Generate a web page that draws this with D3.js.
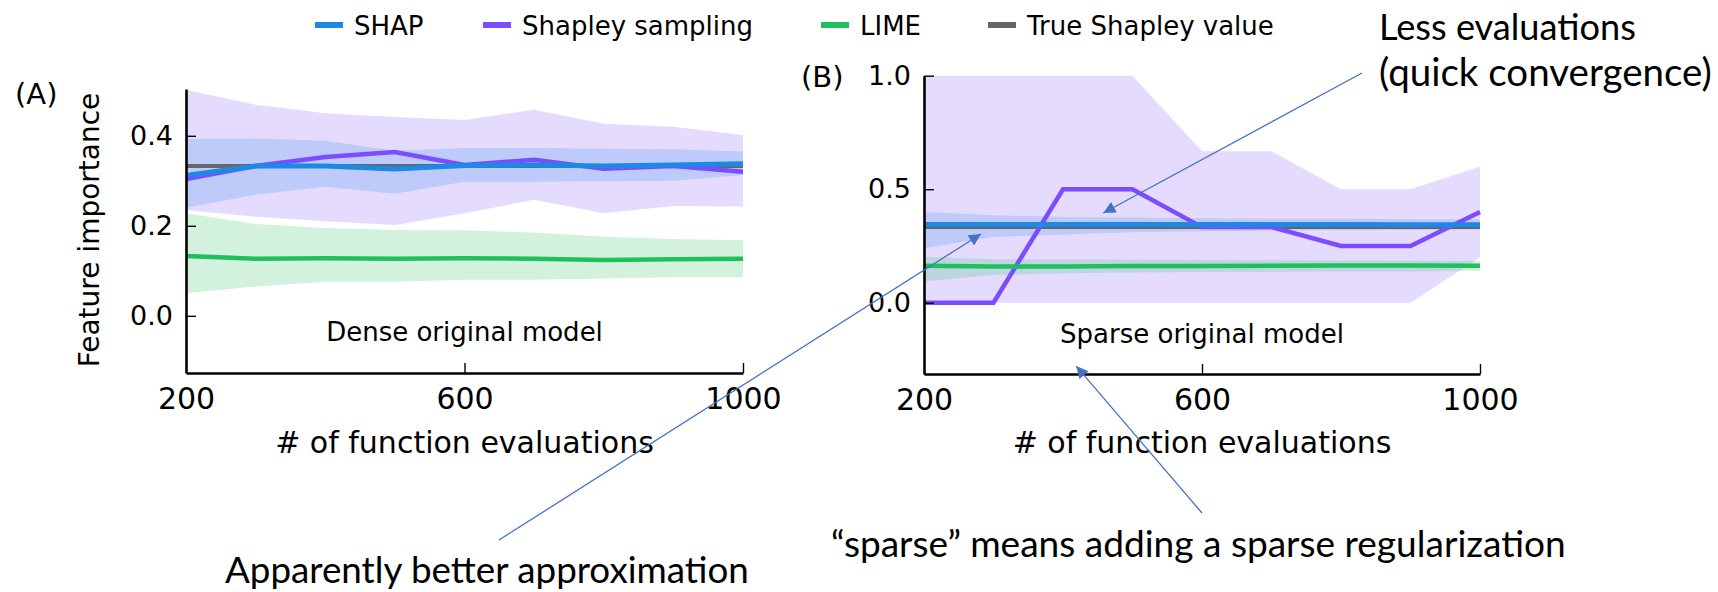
<!DOCTYPE html>
<html>
<head>
<meta charset="utf-8">
<script src="https://cdn.jsdelivr.net/npm/d3@7"></script>
<style>
  body { margin: 0; background: #fff; }
  svg { display: block; }
</style>
</head>
<body>
<svg id="chart" width="1718" height="592"></svg>
<script>
// values

var evals = [200, 300, 400, 500, 600, 700, 800, 900, 1000];

var seriesNames = ["SHAP", "Shapley sampling", "LIME", "True Shapley value"];

// (A) dense original model
var shapA    = [0.312, 0.333, 0.333, 0.326, 0.334, 0.335, 0.333, 0.335, 0.338];
var shapALo  = [0.240, 0.269, 0.287, 0.271, 0.298, 0.298, 0.299, 0.300, 0.313];
var shapAHi  = [0.393, 0.394, 0.389, 0.367, 0.373, 0.373, 0.371, 0.370, 0.365];
var sampA    = [0.304, 0.333, 0.353, 0.364, 0.335, 0.347, 0.327, 0.333, 0.320];
var sampALo  = [0.235, 0.220, 0.210, 0.202, 0.228, 0.258, 0.228, 0.244, 0.243];
var sampAHi  = [0.502, 0.469, 0.450, 0.442, 0.435, 0.458, 0.427, 0.420, 0.402];
var limeA    = [0.133, 0.127, 0.128, 0.127, 0.128, 0.127, 0.124, 0.126, 0.127];
var limeALo  = [0.050, 0.065, 0.076, 0.076, 0.080, 0.080, 0.083, 0.086, 0.086];
var limeAHi  = [0.228, 0.204, 0.195, 0.191, 0.190, 0.185, 0.176, 0.171, 0.168];
var trueA    = [0.333, 0.333, 0.333, 0.333, 0.333, 0.333, 0.333, 0.333, 0.333];

// (B) sparse original model
var shapB    = [0.345, 0.345, 0.345, 0.345, 0.344, 0.344, 0.344, 0.343, 0.343];
var shapBLo  = [0.240, 0.290, 0.300, 0.310, 0.315, 0.318, 0.320, 0.320, 0.322];
var shapBHi  = [0.400, 0.385, 0.378, 0.375, 0.372, 0.370, 0.370, 0.368, 0.368];
var sampB    = [0.000, 0.000, 0.500, 0.500, 0.333, 0.333, 0.250, 0.250, 0.400];
var sampBLo  = [0.000, 0.000, 0.000, 0.000, 0.000, 0.000, 0.000, 0.000, 0.200];
var sampBHi  = [1.000, 1.000, 1.000, 1.000, 0.667, 0.667, 0.500, 0.500, 0.600];
var limeB    = [0.163, 0.160, 0.160, 0.162, 0.162, 0.163, 0.164, 0.164, 0.163];
var limeBLo  = [0.093, 0.122, 0.130, 0.133, 0.135, 0.136, 0.137, 0.138, 0.140];
var limeBHi  = [0.203, 0.192, 0.190, 0.190, 0.188, 0.187, 0.186, 0.185, 0.185];
var trueB    = [0.333, 0.333, 0.333, 0.333, 0.333, 0.333, 0.333, 0.333, 0.333];

var xTicks = [200, 600, 1000];
var yTicksA = [0.0, 0.2, 0.4];
var yTicksB = [0.0, 0.5, 1.0];

var colors = { shap: "#1e88e5", samp: "#7c4dff", lime: "#1fbf5c", truth: "#666666" };
var annoBlue = "#4472c4";
var mplFont = "'DejaVu Sans', sans-serif";
var noteFont = "Lato, 'Open Sans', sans-serif";

var svg = d3.select("#chart");

svg.append("defs").append("marker")
    .attr("id", "arrow")
    .attr("viewBox", "0 0 10 10")
    .attr("refX", 10).attr("refY", 5)
    .attr("markerUnits", "userSpaceOnUse")
    .attr("markerWidth", 14).attr("markerHeight", 12)
    .attr("orient", "auto")
  .append("path")
    .attr("d", "M0,0 L10,5 L0,10 z")
    .attr("fill", annoBlue);

// ---- one panel ----
function drawPanel(p) {
  var x = d3.scaleLinear().domain([200, 1000]).range(p.xRange);
  var y = d3.scaleLinear().domain(p.yDomain).range(p.yRange);
  var g = svg.append("g");

  var area = d3.area()
      .x(function(d) { return x(d.x); })
      .y0(function(d) { return y(d.lo); })
      .y1(function(d) { return y(d.hi); });
  var line = d3.line()
      .x(function(d) { return x(d.x); })
      .y(function(d) { return y(d.v); });

  function band(lo, hi) { return evals.map(function(e, i) { return { x: e, lo: lo[i], hi: hi[i] }; }); }
  function pts(v) { return evals.map(function(e, i) { return { x: e, v: v[i] }; }); }

  // shaded spreads
  g.append("path").datum(band(p.sampLo, p.sampHi)).attr("d", area)
    .attr("fill", colors.samp).attr("fill-opacity", 0.2);
  g.append("path").datum(band(p.shapLo, p.shapHi)).attr("d", area)
    .attr("fill", colors.shap).attr("fill-opacity", 0.2);
  g.append("path").datum(band(p.limeLo, p.limeHi)).attr("d", area)
    .attr("fill", colors.lime).attr("fill-opacity", 0.2);

  // lines
  g.append("path").datum(pts(p.truth)).attr("d", line)
    .attr("fill", "none").attr("stroke", colors.truth).attr("stroke-width", 4);
  g.append("path").datum(pts(p.samp)).attr("d", line)
    .attr("fill", "none").attr("stroke", colors.samp).attr("stroke-width", 4.5);
  g.append("path").datum(pts(p.shap)).attr("d", line)
    .attr("fill", "none").attr("stroke", colors.shap).attr("stroke-width", 5);
  g.append("path").datum(pts(p.lime)).attr("d", line)
    .attr("fill", "none").attr("stroke", colors.lime).attr("stroke-width", 4.5);

  // axes: left + bottom spines, ticks pointing in
  var yAxis = g.append("g")
      .attr("transform", "translate(" + p.xRange[0] + ",0)")
      .call(d3.axisLeft(y).tickValues(p.yTicks).tickFormat(d3.format(".1f"))
              .tickSizeInner(-10).tickSizeOuter(0).tickPadding(13));
  var xAxis = g.append("g")
      .attr("transform", "translate(0," + p.yRange[0] + ")")
      .call(d3.axisBottom(x).tickValues(xTicks).tickFormat(d3.format("d"))
              .tickSizeInner(-10).tickSizeOuter(0).tickPadding(14));

  [yAxis, xAxis].forEach(function(a) {
    a.select(".domain").attr("stroke", "#000").attr("stroke-width", 2.6);
    a.selectAll(".tick line").attr("stroke", "#000").attr("stroke-width", 1.4);
    a.selectAll("text").attr("font-family", mplFont).attr("fill", "#000");
  });
  yAxis.selectAll("text").attr("font-size", 27);
  xAxis.selectAll("text").attr("font-size", 30).attr("dy", "0.74em");
  xAxis.select(".tick line").attr("display", "none");

  g.append("text")
    .attr("x", (p.xRange[0] + p.xRange[1]) / 2).attr("y", p.titleY)
    .attr("text-anchor", "middle")
    .attr("font-family", mplFont).attr("font-size", 30)
    .text("# of function evaluations");

  g.append("text")
    .attr("x", x(p.noteX)).attr("y", p.noteY)
    .attr("text-anchor", "middle")
    .attr("font-family", mplFont).attr("font-size", 26)
    .text(p.note);

  g.append("text")
    .attr("x", p.tagX).attr("y", p.tagY)
    .attr("font-family", mplFont).attr("font-size", 29)
    .text(p.tag);

  return { x: x, y: y };
}

var panelA = drawPanel({
  xRange: [186, 743], yDomain: [-0.127, 0.504], yRange: [373, 89],
  yTicks: yTicksA, titleY: 453, note: "Dense original model", noteX: 600, noteY: 341,
  tag: "(A)", tagX: 15, tagY: 104,
  shap: shapA, shapLo: shapALo, shapHi: shapAHi,
  samp: sampA, sampLo: sampALo, sampHi: sampAHi,
  lime: limeA, limeLo: limeALo, limeHi: limeAHi, truth: trueA
});

var panelB = drawPanel({
  xRange: [924, 1480], yDomain: [-0.314, 1.0], yRange: [374, 75.7],
  yTicks: yTicksB, titleY: 453, note: "Sparse original model", noteX: 600, noteY: 343,
  tag: "(B)", tagX: 801, tagY: 87,
  shap: shapB, shapLo: shapBLo, shapHi: shapBHi,
  samp: sampB, sampLo: sampBLo, sampHi: sampBHi,
  lime: limeB, limeLo: limeBLo, limeHi: limeBHi, truth: trueB
});

// y label of panel A
svg.append("text")
  .attr("transform", "translate(99,230) rotate(-90)")
  .attr("text-anchor", "middle")
  .attr("font-family", mplFont).attr("font-size", 28)
  .text("Feature importance");

// ---- legend ----
var legendX = [315, 483, 821, 988];
var legendColors = [colors.shap, colors.samp, colors.lime, colors.truth];
var legend = svg.append("g").selectAll("g").data(seriesNames).enter().append("g")
    .attr("transform", function(d, i) { return "translate(" + legendX[i] + ",25)"; });
legend.append("line")
    .attr("x1", 0).attr("x2", 28).attr("y1", 0).attr("y2", 0)
    .attr("stroke", function(d, i) { return legendColors[i]; })
    .attr("stroke-width", 6);
legend.append("text")
    .attr("x", 39).attr("y", 10)
    .attr("font-family", mplFont).attr("font-size", 26)
    .text(function(d) { return d; });

// ---- annotations ----
function fitText(sel, width) {
  var w = sel.node().getComputedTextLength();
  var fs = parseFloat(sel.attr("font-size"));
  sel.attr("font-size", fs * width / w);
}

var notes = svg.append("g").attr("font-family", noteFont).attr("fill", "#000");
fitText(notes.append("text").attr("x", 1379).attr("y", 40).attr("font-size", 34)
  .text("Less evaluations"), 257);
fitText(notes.append("text").attr("x", 1379).attr("y", 86).attr("font-size", 34)
  .text("(quick convergence)"), 333);
fitText(notes.append("text").attr("x", 225).attr("y", 583).attr("font-size", 34)
  .text("Apparently better approximation"), 524);
fitText(notes.append("text").attr("x", 831).attr("y", 557).attr("font-size", 34)
  .text("\u201csparse\u201d means adding a sparse regularization"), 735);

var arrows = [
  { from: [499, 540], to: [panelB.x(282), panelB.y(0.303)] },
  { from: [1362, 73], to: [panelB.x(458), panelB.y(0.395)] },
  { from: [1202, 513], to: [panelB.x(419), panelB.y(-0.279)] }
];
svg.append("g").selectAll("line").data(arrows).enter().append("line")
    .attr("x1", function(d) { return d.from[0]; })
    .attr("y1", function(d) { return d.from[1]; })
    .attr("x2", function(d) { return d.to[0]; })
    .attr("y2", function(d) { return d.to[1]; })
    .attr("stroke", annoBlue).attr("stroke-width", 1.3)
    .attr("marker-end", "url(#arrow)");
</script>
</body>
</html>
